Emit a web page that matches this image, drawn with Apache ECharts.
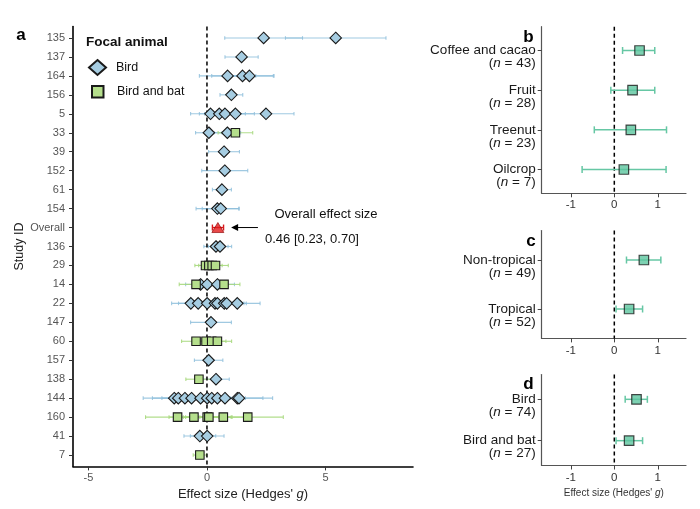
<!DOCTYPE html>
<html><head><meta charset="utf-8">
<script src="https://cdn.jsdelivr.net/npm/echarts@6/dist/echarts.min.js"></script>
<style>html,body{margin:0;padding:0;background:#fff}#c{width:700px;height:509px}</style>
</head><body><div id="c"></div>
<script>
// ---------- DATA ----------
const studies = ['135','137','164','156','5','33','39','152','61','154','Overall','136','29','14','22','147','60','157','138','144','160','41','7'];

const birdStudy = ['135','135','137','164','164','164','156','5','5','5','5','5','33','33','39','152','61','154','154','136','136','14','14','14','22','22','22','22','22','22','22','22','147','157','138','144','144','144','144','144','144','144','144','144','144','144','41','41'];
const birdG  = [2.39,5.43,1.46,0.87,1.50,1.79,1.03,0.15,0.52,0.76,1.20,2.49,0.08,0.86,0.72,0.75,0.63,0.44,0.58,0.38,0.55,-0.27,0.01,0.44,-0.68,-0.37,0.01,0.34,0.44,0.73,0.83,1.28,0.17,0.07,0.38,-1.38,-1.21,-0.93,-0.65,-0.27,0.01,0.20,0.44,0.76,1.28,1.35,-0.30,0.01];
const birdLo = [0.75,3.31,0.76,-0.32,0.20,0.75,0.55,-0.69,-0.32,-0.10,0.40,1.31,-0.48,0.30,0.07,-0.22,0.23,-0.46,-0.20,-0.13,0.06,-0.90,-0.60,-0.28,-1.49,-1.20,-0.70,-0.40,-0.30,-0.10,0.00,0.32,-0.69,-0.53,-0.18,-2.69,-2.30,-1.90,-1.50,-1.10,-0.80,-0.60,-0.40,-0.10,0.20,-0.07,-0.97,-0.70];
const birdHi = [4.03,7.55,2.16,2.06,2.80,2.83,1.51,0.99,1.36,1.62,2.00,3.67,0.64,1.42,1.37,1.72,1.03,1.34,1.36,0.89,1.04,0.36,0.62,1.16,0.13,0.46,0.72,1.08,1.18,1.56,1.66,2.24,1.03,0.67,0.94,-0.07,-0.12,0.04,0.20,0.56,0.82,1.00,1.28,1.62,2.36,2.77,0.37,0.72];

const batStudy = ['33','29','29','29','29','14','14','60','60','60','60','138','160','160','160','160','160','160','7'];
const batG  = [1.20,-0.06,0.08,0.22,0.36,-0.46,0.72,-0.46,-0.04,0.20,0.44,-0.34,-1.24,-0.55,0.01,0.08,0.69,1.72,-0.30];
const batLo = [0.47,-0.51,-0.35,-0.20,-0.18,-1.17,0.05,-1.07,-0.60,-0.40,-0.16,-0.89,-2.59,-1.60,-1.00,-0.90,-0.30,0.22,-0.58];
const batHi = [1.93,0.39,0.51,0.64,0.90,0.25,1.39,0.15,0.52,0.80,1.04,0.21,0.11,0.50,1.02,1.06,1.68,3.22,-0.02];

const overallG = 0.46, overallLo = 0.23, overallHi = 0.70;

const cropCats = ['Coffee and cacao','Fruit','Treenut','Oilcrop'];
const cropN  = [43,28,23,7];
const cropG  = [0.58,0.42,0.38,0.22];
const cropLo = [0.19,-0.08,-0.46,-0.74];
const cropHi = [0.93,0.93,1.20,1.19];

const climCats = ['Non-tropical','Tropical'];
const climN  = [49,52];
const climG  = [0.68,0.34];
const climLo = [0.28,0.04];
const climHi = [1.07,0.65];

const animCats = ['Bird','Bird and bat'];
const animN  = [74,27];
const animG  = [0.51,0.34];
const animLo = [0.25,0.04];
const animHi = [0.76,0.65];

const leftTicks = [-5,0,5];
const rightTicks = [-1,0,1];

// ---------- CHART ----------
const FONT = '"Liberation Sans", Arial, Helvetica, sans-serif';
const chart = echarts.init(document.getElementById('c'), null, {renderer:'canvas'});

function idx(s){ return studies.indexOf(s); }

function makeErr(cap, color, w, op){
  return function(params, api){
    const y = api.value(0);
    const a = api.coord([api.value(1), y]);
    const b = api.coord([api.value(2), y]);
    const st = {stroke: color, lineWidth: w, opacity: op};
    return {type:'group', children:[
      {type:'line', shape:{x1:a[0],y1:a[1],x2:b[0],y2:b[1]}, style:st},
      {type:'line', shape:{x1:a[0],y1:a[1]-cap,x2:a[0],y2:a[1]+cap}, style:st},
      {type:'line', shape:{x1:b[0],y1:b[1]-cap,x2:b[0],y2:b[1]+cap}, style:st}
    ]};
  };
}
function zeroLine(yMin, yMax){
  return function(params, api){
    const a = api.coord([0, yMin]);
    const b = api.coord([0, yMax]);
    return {type:'line', shape:{x1:a[0],y1:a[1],x2:b[0],y2:b[1]},
      style:{stroke:'#000', lineWidth:1.5, lineDash:[4,3]}};
  };
}

const grids = [
  {left:73, top:26.6, width:340, height:439.8},
  {left:541.7, top:26.7, width:144.3, height:166.6},
  {left:541.7, top:230.6, width:144.3, height:107.8},
  {left:541.7, top:374.5, width:144.3, height:91}
].map(g => Object.assign({outerBoundsMode:'none', containLabel:false}, g));

const xAxes = [
  {gridIndex:0, type:'value', min:-5.65, max:8.69,
   axisLine:{onZero:false, lineStyle:{color:'#000', width:1.6}},
   axisTick:{customValues:leftTicks, length:4, lineStyle:{color:'#333'}},
   axisLabel:{customValues:leftTicks, color:'#555', fontSize:11, margin:6, fontFamily:FONT},
   splitLine:{show:false},
   name:"Effect size (Hedges' {i|g})", nameLocation:'middle', nameGap:19,
   nameTextStyle:{fontSize:13, color:'#222', fontFamily:FONT, rich:{i:{fontStyle:'italic', fontSize:13, color:'#222', fontFamily:FONT}}}}
];
[1,2,3].forEach(g => {
  const ax = {gridIndex:g, type:'value', min:-1.669, max:1.648,
    axisLine:{onZero:false, lineStyle:{color:'#555', width:1.2}},
    axisTick:{customValues:rightTicks, length:4, lineStyle:{color:'#444'}},
    axisLabel:{customValues:rightTicks, color:'#333', fontSize:11.5, margin:6, fontFamily:FONT},
    splitLine:{show:false}};
  if (g === 3) {
    ax.name = "Effect size (Hedges' {i|g})"; ax.nameLocation='middle'; ax.nameGap=23;
    ax.nameTextStyle = {fontSize:10, color:'#333', fontFamily:FONT, rich:{i:{fontStyle:'italic', fontSize:10, color:'#333', fontFamily:FONT}}};
  }
  xAxes.push(ax);
});

const leftIdx = studies.map((s,i)=>i);
const yAxes = [
  {gridIndex:0, type:'value', inverse:true, min:-0.6, max:studies.length-0.4,
   axisLine:{onZero:false, lineStyle:{color:'#000', width:1.6}},
   axisTick:{customValues:leftIdx, length:4, lineStyle:{color:'#333'}},
   axisLabel:{customValues:leftIdx, formatter:v=>studies[Math.round(v)], color:'#555', fontSize:11, margin:8, fontFamily:FONT},
   splitLine:{show:false},
   name:'Study ID', nameLocation:'middle', nameGap:45,
   nameTextStyle:{fontSize:12.5, color:'#222', fontFamily:FONT}}
];
const LH = 13;
const labRich = {
  a:{fontSize:13.5, lineHeight:LH, color:'#1a1a1a', fontFamily:FONT},
  b:{fontSize:13.5, lineHeight:LH, color:'#1a1a1a', fontFamily:FONT},
  i:{fontSize:13.5, lineHeight:LH, color:'#1a1a1a', fontStyle:'italic', fontFamily:FONT}
};
function catAxis(g, cats, ns, pxPerUnit){
  const t = cats.map((c,i)=>i);
  const delta = (LH/2)/pxPerUnit;
  return {gridIndex:g, type:'value', inverse:true, min:-0.6, max:cats.length-0.4,
    axisLine:{onZero:false, lineStyle:{color:'#555', width:1.2}},
    axisTick:{customValues:t, length:4, lineStyle:{color:'#444'}},
    axisLabel:{customValues:t.map(i=>i+delta), margin:6,
      formatter:v=>{const i=Math.round(v-delta); return '{a|'+cats[i]+'}\n{b|(}{i|n}{b| = '+ns[i]+')}';},
      rich:labRich},
    splitLine:{show:false}};
}
yAxes.push(catAxis(1, cropCats, cropN, 166.6/4.2));
yAxes.push(catAxis(2, climCats, climN, 107.8/2.2));
yAxes.push(catAxis(3, animCats, animN, 91/2.2));

const series = [];
// left panel
series.push({type:'custom', name:'birdErr', xAxisIndex:0, yAxisIndex:0, z:1, silent:true,
  renderItem:makeErr(1.8,'#8fbfdc',1.1,0.85), encode:{x:[1,2], y:0},
  data:birdStudy.map((s,i)=>[idx(s), birdLo[i], birdHi[i]])});
series.push({type:'custom', name:'batErr', xAxisIndex:0, yAxisIndex:0, z:1, silent:true,
  renderItem:makeErr(1.8,'#a9d97f',1.1,0.9), encode:{x:[1,2], y:0},
  data:batStudy.map((s,i)=>[idx(s), batLo[i], batHi[i]])});
series.push({type:'custom', name:'overallErr', xAxisIndex:0, yAxisIndex:0, z:1, silent:true,
  renderItem:makeErr(3,'#d7191c',1.4,1), encode:{x:[1,2], y:0},
  data:[[idx('Overall'), overallLo, overallHi]]});
series.push({type:'custom', name:'zero0', xAxisIndex:0, yAxisIndex:0, z:2, silent:true,
  renderItem:zeroLine(-0.6, studies.length-0.4), data:[[0]]});
series.push({type:'scatter', name:'Bird', xAxisIndex:0, yAxisIndex:0, z:3,
  symbol:'diamond', symbolSize:11.5,
  itemStyle:{color:'#a6cde2', borderColor:'#1a1a1a', borderWidth:1.1, opacity:1},
  data:birdStudy.map((s,i)=>[birdG[i], idx(s)])});
series.push({type:'scatter', name:'Bird and bat', xAxisIndex:0, yAxisIndex:0, z:3,
  symbol:'rect', symbolSize:8.5,
  itemStyle:{color:'#b5df8c', borderColor:'#1a1a1a', borderWidth:1.1, opacity:1},
  data:batStudy.map((s,i)=>[batG[i], idx(s)])});
series.push({type:'scatter', name:'Overall', xAxisIndex:0, yAxisIndex:0, z:4,
  symbol:'triangle', symbolSize:[12,10],
  itemStyle:{color:'#e31a1c', borderColor:'#8a0000', borderWidth:0.8},
  data:[[overallG, idx('Overall')]]});

// right panels
function rightPanel(g, cats, G, Lo, Hi){
  const n = cats.length;
  series.push({type:'custom', xAxisIndex:g, yAxisIndex:g, z:1, silent:true,
    renderItem:zeroLine(-0.6, n-0.4), data:[[0]]});
  series.push({type:'custom', xAxisIndex:g, yAxisIndex:g, z:2, silent:true,
    renderItem:makeErr(3.5,'#66c7a4',1.5,1), encode:{x:[1,2], y:0},
    data:cats.map((c,i)=>[i, Lo[i], Hi[i]])});
  series.push({type:'scatter', name:'p'+g, xAxisIndex:g, yAxisIndex:g, z:3,
    symbol:'rect', symbolSize:9.5,
    itemStyle:{color:'#5cc59f', borderColor:'#1a1a1a', borderWidth:1.2},
    data:cats.map((c,i)=>[G[i], i])});
}
rightPanel(1, cropCats, cropG, cropLo, cropHi);
rightPanel(2, climCats, climG, climLo, climHi);
rightPanel(3, animCats, animG, animLo, animHi);

chart.setOption({
  animation:false,
  textStyle:{fontFamily:FONT},
  title:{text:'Focal animal', left:86, top:35, padding:0,
    textStyle:{fontSize:13.5, fontWeight:'bold', color:'#111', fontFamily:FONT}},
  legend:[
    {data:['Bird'], left:88, top:59, padding:0, itemWidth:17, itemHeight:15,
     formatter:n=>'{t|'+n+'}', textStyle:{rich:{t:{padding:[0,0,0,5], fontSize:12.5, color:'#111', fontFamily:FONT}}}},
    {data:['Bird and bat'], left:91, top:85, padding:0, itemWidth:11.5, itemHeight:11.5,
     formatter:n=>'{t|'+n+'}', textStyle:{rich:{t:{padding:[0,0,0,8.5], fontSize:12.5, color:'#111', fontFamily:FONT}}}}
  ],
  grid:grids, xAxis:xAxes, yAxis:yAxes, series:series
});

// annotation anchored to data coordinates
const oy = idx('Overall');
const pA = chart.convertToPixel({xAxisIndex:0, yAxisIndex:0}, [2.15, oy]);
const pB = chart.convertToPixel({xAxisIndex:0, yAxisIndex:0}, [1.02, oy]);
const pT1 = chart.convertToPixel({xAxisIndex:0, yAxisIndex:0}, [5.02, oy]);
const pT2 = chart.convertToPixel({xAxisIndex:0, yAxisIndex:0}, [4.43, oy]);
chart.setOption({graphic:[
  {type:'line', shape:{x1:pA[0], y1:pA[1], x2:pB[0]+5, y2:pB[1]}, style:{stroke:'#000', lineWidth:1}},
  {type:'polygon', shape:{points:[[pB[0],pB[1]],[pB[0]+7,pB[1]-3.5],[pB[0]+7,pB[1]+3.5]]}, style:{fill:'#000'}},
  {type:'text', x:pT1[0], y:pT1[1]-13, style:{text:'Overall effect size', fontSize:13, fill:'#111', fontFamily:FONT, align:'center', verticalAlign:'middle'}},
  {type:'text', x:pT2[0], y:pT2[1]+12, style:{text:'0.46 [0.23, 0.70]', fontSize:13, fill:'#111', fontFamily:FONT, align:'center', verticalAlign:'middle'}},
  {type:'text', x:21, y:35, style:{text:'a', fontSize:17, fontWeight:'bold', fill:'#000', fontFamily:FONT, align:'center', verticalAlign:'middle'}},
  {type:'text', x:528.5, y:37, style:{text:'b', fontSize:17, fontWeight:'bold', fill:'#000', fontFamily:FONT, align:'center', verticalAlign:'middle'}},
  {type:'text', x:531, y:241, style:{text:'c', fontSize:17, fontWeight:'bold', fill:'#000', fontFamily:FONT, align:'center', verticalAlign:'middle'}},
  {type:'text', x:528.5, y:384, style:{text:'d', fontSize:17, fontWeight:'bold', fill:'#000', fontFamily:FONT, align:'center', verticalAlign:'middle'}}
]});
</script></body></html>
